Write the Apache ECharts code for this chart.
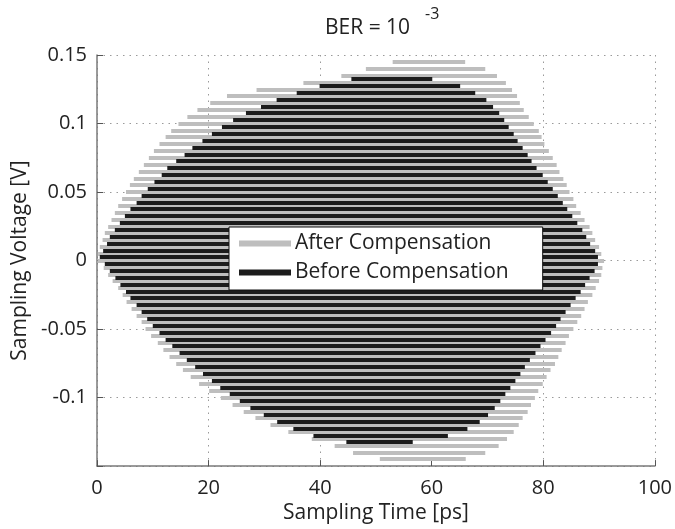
<!DOCTYPE html>
<html>
<head>
<meta charset="utf-8">
<script src="https://cdn.jsdelivr.net/npm/echarts@6/dist/echarts.min.js"></script>
<style>
  html, body { margin: 0; padding: 0; background: #fff; }
  #chart { width: 675px; height: 529px; }
</style>
</head>
<body>
<div id="chart"></div>
<script>
// voltage levels [V] and left/right ends [ps] of each eye-opening segment
const afterLevels = [0.145, 0.14, 0.135, 0.13, 0.125, 0.12, 0.115, 0.11, 0.105, 0.1,
    0.095, 0.09, 0.085, 0.08, 0.075, 0.07, 0.065, 0.06, 0.055, 0.05,
    0.045, 0.04, 0.035, 0.03, 0.025, 0.02, 0.015, 0.01, 0.005, 0,
    -0.005, -0.01, -0.015, -0.02, -0.025, -0.03, -0.035, -0.04, -0.045, -0.05,
    -0.055, -0.06, -0.065, -0.07, -0.075, -0.08, -0.085, -0.09, -0.095, -0.1,
    -0.105, -0.11, -0.115, -0.12, -0.125, -0.13, -0.135, -0.14, -0.145];
const afterLeft = [53.0, 48.2, 43.8, 37.0, 28.6, 23.3, 20.3, 18.0, 16.2, 14.6,
    13.3, 12.3, 11.2, 10.2, 9.3, 8.4, 7.5, 6.6, 5.9, 5.2,
    4.5, 3.8, 3.2, 2.6, 2.0, 1.4, 1.0, 0.5, 0.2, 0.1,
    1.2, 2.0, 2.8, 3.8, 4.6, 5.3, 6.2, 7.1, 8.0, 8.7,
    9.7, 10.9, 11.9, 13.0, 14.2, 15.4, 16.8, 18.3, 20.1, 22.2,
    24.3, 26.3, 28.4, 31.1, 34.3, 38.5, 42.6, 45.9, 50.7];
const afterRight = [66.0, 69.6, 71.7, 73.3, 74.4, 75.3, 75.8, 76.5, 77.4, 78.3,
    79.2, 79.7, 80.2, 81.0, 81.7, 82.4, 82.9, 83.6, 84.2, 84.7,
    85.4, 85.9, 86.7, 87.4, 88.3, 88.8, 89.3, 90.0, 90.4, 90.9,
    90.6, 90.4, 90.0, 89.4, 88.8, 88.0, 87.4, 86.8, 86.1, 85.4,
    84.6, 84.0, 83.3, 82.7, 82.1, 81.3, 80.6, 79.9, 79.1, 78.5,
    77.8, 77.2, 76.3, 75.6, 74.7, 73.5, 72.0, 69.6, 66.1];

const beforeLevels = [0.1325, 0.1275, 0.1225, 0.1175, 0.1125, 0.1075, 0.1025, 0.0975, 0.0925, 0.0875,
    0.0825, 0.0775, 0.0725, 0.0675, 0.0625, 0.0575, 0.0525, 0.0475, 0.0425, 0.0375,
    0.0325, 0.0275, 0.0225, 0.0175, 0.0125, 0.0075, 0.0025,
    -0.0025, -0.0075, -0.0125, -0.0175, -0.0225, -0.0275, -0.0325, -0.0375, -0.0425, -0.0475,
    -0.0525, -0.0575, -0.0625, -0.0675, -0.0725, -0.0775, -0.0825, -0.0875, -0.0925, -0.0975,
    -0.1025, -0.1075, -0.1125, -0.1175, -0.1225, -0.1275, -0.1325];
const beforeLeft = [45.6, 39.9, 35.8, 32.2, 29.4, 26.7, 24.4, 22.4, 20.6, 18.9,
    17.1, 15.7, 14.2, 12.6, 11.6, 10.3, 9.1, 8.0, 7.1, 6.0,
    5.0, 4.1, 3.2, 2.3, 1.8, 1.1, 0.5,
    1.4, 2.3, 3.3, 4.2, 5.2, 6.0, 7.1, 8.0, 9.0, 10.0,
    11.2, 12.3, 13.5, 14.8, 16.1, 17.6, 19.0, 20.6, 22.1, 23.8,
    25.6, 27.5, 29.9, 32.3, 35.2, 38.8, 44.7];
const beforeRight = [60.1, 65.1, 67.8, 69.8, 71.0, 72.1, 73.0, 73.8, 74.7, 75.4,
    76.3, 77.2, 77.9, 78.8, 79.9, 80.8, 81.7, 82.6, 83.5, 84.3,
    85.2, 86.1, 87.0, 87.7, 88.4, 89.3, 89.8,
    89.8, 89.2, 88.3, 87.5, 86.7, 85.8, 84.9, 84.0, 83.1, 82.3,
    81.4, 80.4, 79.5, 78.6, 77.6, 76.7, 75.9, 75.0, 74.1, 73.2,
    72.3, 71.3, 70.1, 68.6, 66.4, 62.9, 56.6];

const xTicks = [0, 20, 40, 60, 80, 100];
const yTicks = [-0.15, -0.1, -0.05, 0, 0.05, 0.1, 0.15];

const grayColor = '#bebebe';
const blackColor = '#1c1c1c';
const font = '"Open Sans", sans-serif';

function segments(levels, left, right) {
    return levels.map(function (v, i) {
        return { coords: [[left[i], v], [right[i], v]] };
    });
}

const chart = echarts.init(document.getElementById('chart'), null, { renderer: 'canvas' });

const option = {
    animation: false,
    backgroundColor: '#fff',
    textStyle: { fontFamily: font },
    title: [
        {
            text: 'BER = 10',
            left: 320, top: 13,
            textStyle: { fontFamily: font, fontSize: 21, fontWeight: 'normal', color: '#222' }
        },
        {
            text: '-3',
            left: 420, top: 1,
            textStyle: { fontFamily: font, fontSize: 16, fontWeight: 'normal', color: '#222' }
        }
    ],
    grid: { left: 97, right: 16, top: 55, bottom: 54, containLabel: false },
    legend: {
        orient: 'vertical',
        left: 229, top: 227,
        padding: [6, 34, 7, 10],
        itemGap: 8,
        itemWidth: 50,
        itemHeight: 4,
        backgroundColor: '#fff',
        borderColor: '#111',
        borderWidth: 1,
        borderRadius: 0,
        textStyle: { fontFamily: font, fontSize: 21, color: '#222', lineHeight: 21 },
        data: [
            { name: 'After Compensation', icon: 'rect', itemStyle: { color: grayColor } },
            { name: 'Before Compensation', icon: 'rect', itemStyle: { color: blackColor } }
        ]
    },
    xAxis: {
        type: 'value',
        min: xTicks[0], max: xTicks[xTicks.length - 1], interval: 20,
        name: 'Sampling Time [ps]',
        nameLocation: 'middle',
        nameGap: 33,
        nameTextStyle: { fontFamily: font, fontSize: 21, color: '#222' },
        axisLine: { show: true, onZero: false, lineStyle: { color: '#7a7a7a', width: 1.5 } },
        axisTick: { show: true, inside: true, length: 6, lineStyle: { color: '#555' } },
        axisLabel: { fontFamily: font, fontSize: 20, color: '#222', margin: 12 },
        splitLine: { show: true, lineStyle: { color: '#9a9a9a', type: [1.5, 5], width: 1 } }
    },
    yAxis: {
        type: 'value',
        min: yTicks[0], max: yTicks[yTicks.length - 1], interval: 0.05,
        name: 'Sampling Voltage [V]',
        nameLocation: 'middle',
        nameGap: 64,
        nameRotate: 90,
        nameTextStyle: { fontFamily: font, fontSize: 21, color: '#222' },
        axisLine: { show: true, onZero: false, lineStyle: { color: '#7a7a7a', width: 1.5 } },
        axisTick: { show: true, inside: true, length: 6, lineStyle: { color: '#555' } },
        axisLabel: {
            fontFamily: font, fontSize: 20, color: '#222', margin: 10,
            formatter: function (v) {
                if (Math.abs(v - yTicks[0]) < 1e-9) return '';
                return String(Math.round(v * 1000) / 1000);
            }
        },
        splitLine: { show: true, lineStyle: { color: '#9a9a9a', type: [1.5, 5], width: 1 } }
    },
    series: [
        {
            name: 'After Compensation',
            type: 'lines',
            coordinateSystem: 'cartesian2d',
            silent: true,
            lineStyle: { color: grayColor, width: 4, opacity: 1, cap: 'butt' },
            itemStyle: { color: grayColor },
            data: segments(afterLevels, afterLeft, afterRight)
        },
        {
            name: 'Before Compensation',
            type: 'lines',
            coordinateSystem: 'cartesian2d',
            silent: true,
            lineStyle: { color: blackColor, width: 4, opacity: 1, cap: 'butt' },
            itemStyle: { color: blackColor },
            data: segments(beforeLevels, beforeLeft, beforeRight)
        }
    ]
};

chart.setOption(option);
</script>
</body>
</html>
